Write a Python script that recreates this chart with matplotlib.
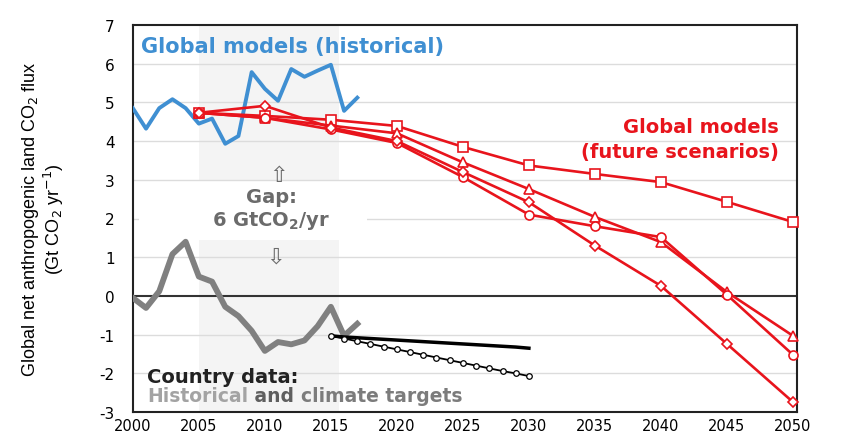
import numpy as np
import matplotlib
matplotlib.use('Agg')
import matplotlib.pyplot as plt
from matplotlib.patches import Rectangle

plt.rcParams['axes.unicode_minus'] = False

# historical global models (blue)
hist_years = list(range(2000, 2018))
hist_models = [4.85, 4.32, 4.85, 5.08, 4.85, 4.45, 4.58, 3.93, 4.13, 5.78,
               5.35, 5.04, 5.86, 5.66, 5.82, 5.97, 4.78, 5.12]

# country data, historical (gray)
country_hist = [-0.05, -0.31, 0.12, 1.08, 1.40, 0.50, 0.37, -0.28, -0.52, -0.90,
                -1.42, -1.19, -1.25, -1.15, -0.78, -0.28, -1.03, -0.72]

# country climate targets
target_years = list(range(2015, 2031))
target_solid = [-1.03, -1.06, -1.08, -1.10, -1.12, -1.14, -1.16, -1.18,
                -1.20, -1.22, -1.24, -1.26, -1.28, -1.30, -1.32, -1.35]
target_dotted = [-1.03, -1.10, -1.17, -1.24, -1.31, -1.38, -1.45, -1.52,
                 -1.59, -1.66, -1.73, -1.80, -1.87, -1.94, -2.00, -2.07]

# future scenarios (red)
scen_years = [2005, 2010, 2015, 2020, 2025, 2030, 2035, 2040, 2045, 2050]
scen_square = [4.73, 4.65, 4.55, 4.39, 3.85, 3.37, 3.15, 2.94, 2.43, 1.91]
scen_triangle = [4.73, 4.60, 4.40, 4.20, 3.45, 2.76, 2.04, 1.39, 0.10, -1.03]
scen_diamond = [4.73, 4.91, 4.35, 4.00, 3.20, 2.42, 1.30, 0.26, -1.24, -2.74]
scen_circle = [4.73, 4.60, 4.30, 3.95, 3.07, 2.10, 1.80, 1.52, 0.03, -1.52]

xticks = list(range(2000, 2051, 5))
yticks = list(range(-3, 8))

red = '#e8141c'
blue = '#3f8fd2'
gray = '#808080'

fig = plt.figure(figsize=(8.46, 4.39), dpi=100)
ax = fig.add_axes([0.157, 0.059, 0.785, 0.882])

ax.set_xlim(2000, 2050.3)
ax.set_ylim(-3, 7)

# shaded historical period with white gap behind text
ax.add_patch(Rectangle((2005, 3.0), 10.6, 4.0, color='#f4f4f4', zorder=0, lw=0))
ax.add_patch(Rectangle((2005, -3), 10.6, 4.45, color='#f4f4f4', zorder=0, lw=0))

for y in yticks:
    if y in (-3, 0, 7):
        continue
    ax.axhline(y, color='#dcdcdc', lw=1, zorder=0.5)
ax.axhline(0, color='#333333', lw=1.5, zorder=1)

# white box behind gap text
ax.add_patch(Rectangle((2000.5, 1.47), 17.2, 1.48, color='white', zorder=0.8, lw=0))

ax.plot(hist_years, hist_models, color=blue, lw=2.8, zorder=3)
ax.plot(hist_years, country_hist, color=gray, lw=4.2, zorder=3)

ax.plot(target_years, target_solid, color='black', lw=2.5, zorder=4)
ax.plot(target_years, target_dotted, color='black', lw=1.3, marker='o', ms=4,
        mfc='white', mec='black', mew=0.9, zorder=4)

for vals, mk, ms in [(scen_square, 's', 6.5), (scen_triangle, '^', 6.5),
                     (scen_circle, 'o', 6.5), (scen_diamond, 'D', 5.5)]:
    ax.plot(scen_years, vals, color=red, lw=1.9, marker=mk, ms=ms,
            mfc='white', mec=red, mew=1.2, zorder=5, clip_on=False)

font = 'DejaVu Sans'
ax.text(2000.6, 6.45, 'Global models (historical)', color=blue, fontsize=15,
        fontweight='bold', family=font, va='center', ha='left')
ax.text(2048.9, 4.05, 'Global models\n(future scenarios)', color=red, fontsize=14,
        fontweight='bold', family=font, va='center', ha='right', linespacing=1.35)
ax.text(2010.5, 2.25, 'Gap:\n6 GtCO$_\\mathbf{2}$/yr', color='#6b6b6b', fontsize=14,
        fontweight='bold', family=font, va='center', ha='center', linespacing=1.2)
ax.text(2011.0, 3.12, '\u21e7', color='#6b6b6b', fontsize=16, family=font,
        ha='center', va='center')
ax.text(2010.8, 1.02, '\u21e9', color='#6b6b6b', fontsize=16, family=font,
        ha='center', va='center')

ax.text(2001.1, -2.08, 'Country data:', color='#222222', fontsize=14,
        fontweight='bold', family=font, va='center', ha='left')
t1 = ax.text(2001.1, -2.56, 'Historical', color='#a3a3a3', fontsize=13.5,
             fontweight='bold', family=font, va='center', ha='left')
fig.canvas.draw()
t2 = ax.annotate(' and ', xy=(1, 0), xycoords=t1, va='bottom', ha='left',
                 color='#5f5f5f', fontsize=13.5, fontweight='bold', family=font)
fig.canvas.draw()
t3 = ax.annotate('climate targets', xy=(1, 0), xycoords=t2, va='bottom', ha='left',
                 color='#7c7c7c', fontsize=13.5, fontweight='bold', family=font)

ax.set_xticks(xticks)
ax.set_yticks(yticks)
ax.tick_params(axis='x', length=0, pad=4, labelsize=10.5)
ax.tick_params(axis='y', length=0, pad=13, labelsize=11)
for lab in ax.get_xticklabels() + ax.get_yticklabels():
    lab.set_family(font)
for sp in ax.spines.values():
    sp.set_linewidth(1.5)
    sp.set_color('#222222')

ax.set_ylabel('Global net anthropogenic land CO$_2$ flux\n(Gt CO$_2$ yr$^{-1}$)',
              fontsize=13, family='Liberation Sans', linespacing=1.05)
ax.yaxis.set_label_coords(-0.10, 0.5)

fig.savefig('out.png', dpi=100)
